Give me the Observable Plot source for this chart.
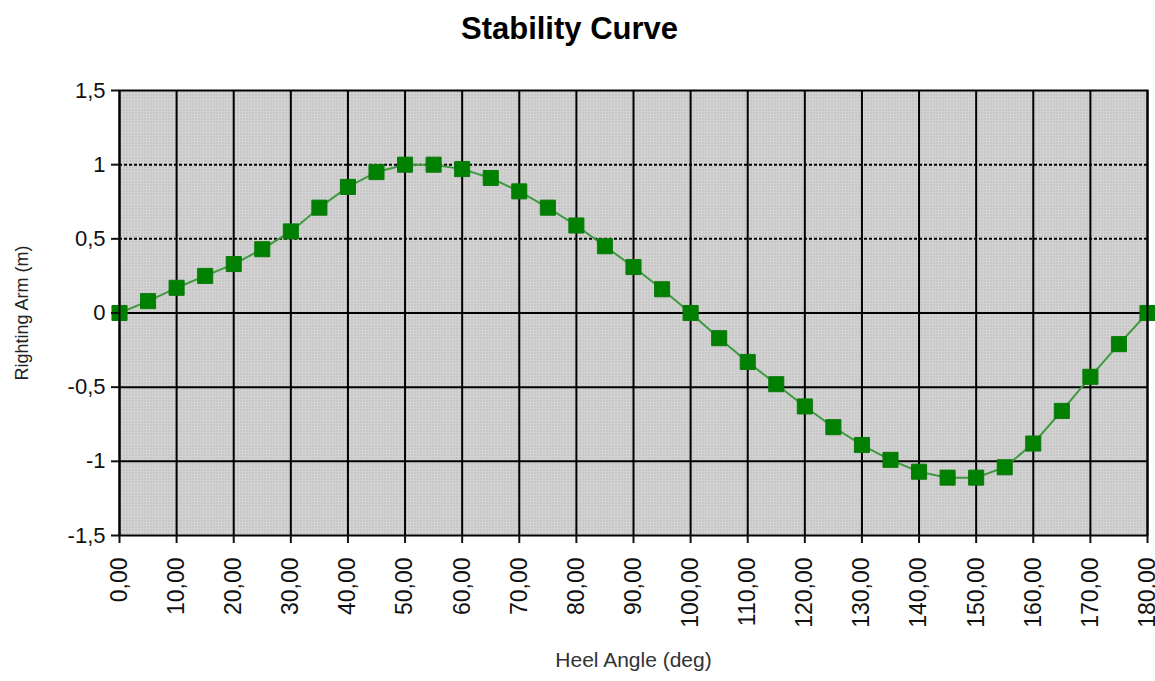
<!DOCTYPE html>
<html><head><meta charset="utf-8">
<script src="https://cdn.jsdelivr.net/npm/d3@7"></script>
<script src="https://cdn.jsdelivr.net/npm/@observablehq/plot@0.6"></script>
<style>
body{margin:0;background:#fff;font-family:"Liberation Sans",Arial,sans-serif;}
#title{width:1139px;padding-right:16px;height:55px;line-height:58px;text-align:center;font-weight:bold;font-size:31px;color:#000;overflow:visible;}
#chart svg{display:block;}
</style></head><body>
<div id="title">Stability Curve</div>
<div id="chart"></div>
<script>
const heelAngles = [0,5,10,15,20,25,30,35,40,45,50,55,60,65,70,75,80,85,90,95,100,105,110,115,120,125,130,135,140,145,150,155,160,165,170,175,180];
const rightingArm = [0,0.08,0.17,0.25,0.33,0.43,0.55,0.71,0.85,0.95,1.0,1.0,0.97,0.91,0.82,0.71,0.59,0.45,0.31,0.16,0.0,-0.17,-0.33,-0.48,-0.63,-0.77,-0.89,-0.99,-1.07,-1.11,-1.11,-1.04,-0.88,-0.66,-0.43,-0.21,0];
const xTicks = [0,10,20,30,40,50,60,70,80,90,100,110,120,130,140,150,160,170,180];
const yTicks = [-1.5,-1,-0.5,0,0.5,1,1.5];
const solidGridY = [-1,-0.5,0];
const dottedGridY = [0.5,1];
const xLabel = "Heel Angle (deg)";
const yLabel = "Righting Arm (m)";

const data = heelAngles.map((a,i)=>({angle:a, arm:rightingArm[i]}));
const fmtX = d => d.toFixed(2).replace(".", ",");
const fmtY = d => String(d).replace(".", ",");

const chart = Plot.plot({
  width: 1155, height: 626,
  marginTop: 35, marginBottom: 146, marginLeft: 119, marginRight: 8,
  style: {fontFamily: '"Liberation Sans", Arial, sans-serif', color: "#111", background: "#fff"},
  x: {domain: [0,180]},
  y: {domain: [-1.5,1.5]},
  marks: [
    Plot.frame({fill: "url(#dotpat)"}),
    Plot.ruleX(xTicks, {stroke: "#000", strokeWidth: 2}),
    Plot.ruleY(solidGridY, {stroke: "#000", strokeWidth: 2}),
    Plot.ruleY(dottedGridY, {stroke: "#000", strokeWidth: 2, strokeDasharray: "3,2"}),
    Plot.line(data, {x: "angle", y: "arm", stroke: "#3f9a3f", strokeWidth: 2}),
    Plot.dot(data, {x: "angle", y: "arm", symbol: "square", r: 8.5, fill: "#008000", stroke: "#0b7a0b", strokeWidth: 1}),
    Plot.frame({stroke: "#000", strokeWidth: 2}),
    Plot.axisY(yTicks, {tickFormat: fmtY, fontSize: 22, tickSize: 8, tickPadding: 6, strokeWidth: 2, label: null}),
    Plot.axisX(xTicks, {tickFormat: fmtX, tickRotate: -90, fontSize: 23, tickSize: 8, tickPadding: 14, strokeWidth: 2, label: null}),
    Plot.text([yLabel], {frameAnchor: "left", textAnchor: "middle", dx: -97, rotate: -90, fontSize: 18, fill: "#222"}),
    Plot.text([xLabel], {frameAnchor: "bottom", textAnchor: "middle", dy: 131, fontSize: 21, fill: "#333"})
  ]
});

const ns = "http://www.w3.org/2000/svg";
const defs = document.createElementNS(ns, "defs");
defs.innerHTML = '<pattern id="dotpat" width="3" height="3" patternUnits="userSpaceOnUse"><rect width="3" height="3" fill="#d3d3d3"/><rect width="1" height="1" fill="#a4a4a4"/></pattern>';
chart.insertBefore(defs, chart.firstChild);
document.getElementById("chart").appendChild(chart);
</script>
</body></html>
